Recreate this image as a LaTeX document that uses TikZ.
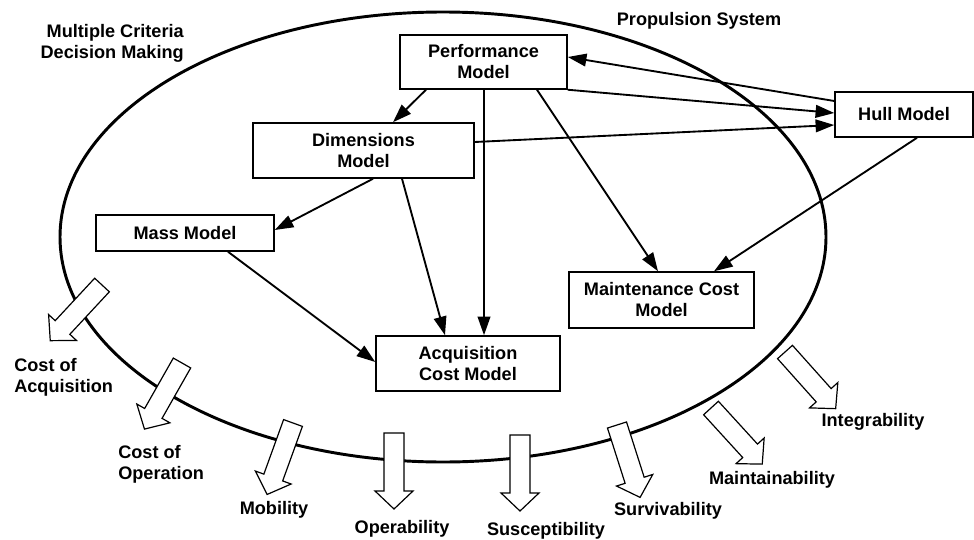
\documentclass[tikz,border=0pt]{standalone}
\usepackage{fontspec}
\setmainfont{Liberation Sans}
\usetikzlibrary{arrows.meta,calc}
\tikzset{
	model/.style={draw, line width=1.1pt, fill=white, align=center, inner sep=0pt, font=\fontsize{13.6}{15.75}\selectfont\bfseries},
	lbl/.style={align=center, inner sep=0pt, font=\fontsize{13.6}{15.75}\selectfont\bfseries},
	link/.style={line width=1.4pt, -{Triangle[length=14pt,width=9.5pt]}},
	hollow/.style={draw, line width=0.9pt, fill=white, line join=miter},
}
\newcommand\critarrow[2]{%
	\draw[hollow, shift={(#1)}, rotate=#2] (0,10) -- (58,10) -- (58,19) -- (76,0) -- (58,-19) -- (58,-10) -- (0,-10) -- cycle;}
\begin{document}
\begin{tikzpicture}[x=0.75pt, y=-0.75pt]
	\useasboundingbox (0,0) rectangle (974,539);
	\draw[line width=2.2pt] (443,237) ellipse [x radius=383, y radius=225];
	\node[model, minimum width=125.3pt, minimum height=40.5pt] (perf) at (483.5,62) {Performance\\Model};
	\node[model, minimum width=165.8pt, minimum height=41.3pt] (dims) at (363.5,150.5) {Dimensions\\Model};
	\node[model, minimum width=103.5pt, minimum height=33.8pt] (hull) at (904,114.5) {Hull Model};
	\node[model, minimum width=133.5pt, minimum height=27pt] (mass) at (185,233) {Mass Model};
	\node[model, minimum width=138pt, minimum height=41.3pt] (acq) at (468,363.5) {Acquisition\\Cost Model};
	\node[model, minimum width=138.8pt, minimum height=42pt] (maint) at (661.5,300) {Maintenance Cost\\Model};
	\draw[link] ($(perf.south)+(-57.5,0)$) -- ($(dims.north)+(29.5,0)$);
	\draw[link] ($(hull.west)+(0,-13.5)$) -- ($(perf.east)+(0,-5)$);
	\draw[link] (perf.south east) -- ($(hull.west)+(0,-1.5)$);
	\draw[link] ($(dims.east)+(0,-8.5)$) -- ($(hull.west)+(0,10.5)$);
	\draw[link] ($(hull.south)+(13,0)$) -- ($(maint.north)+(52.5,0)$);
	\draw[link] ($(perf.south)+(53.5,0)$) -- ($(maint.north)+(-3.5,0)$);
	\draw[link] ($(perf.south)+(0.5,0)$) -- ($(acq.north)+(16,0)$);
	\draw[link] ($(dims.south)+(38.5,0)$) -- ($(acq.north)+(-23,0)$);
	\draw[link] ($(dims.south)+(9.5,0)$) -- ($(mass.east)+(0,-3)$);
	\draw[link] ($(mass.south)+(43,0)$) -- ($(acq.west)+(0,-1.5)$);
	\critarrow{102,285}{-132.9}
	\critarrow{182,363}{-119.6}
	\critarrow{293,423}{-109.9}
	\critarrow{394,433}{-90}
	\critarrow{520,435}{-90}
	\critarrow{617,425}{-72.3}
	\critarrow{711,408}{-47.6}
	\critarrow{785,352}{-48.2}
	\node[lbl, align=right, anchor=east] (mcdm) at (184,43) {Multiple Criteria\\Decision Making};
	\node[lbl] (prop) at (699,21) {Propulsion System};
	\node[lbl, align=left, anchor=west] (costacq) at (14,377) {Cost of\\Acquisition};
	\node[lbl, align=left, anchor=west] (costop) at (118,464) {Cost of\\Operation};
	\node[lbl] (mob) at (274,510) {Mobility};
	\node[lbl] (oper) at (402,529) {Operability};
	\node[lbl] (susc) at (546,531) {Susceptibility};
	\node[lbl] (surv) at (668,511) {Survivability};
	\node[lbl] (maintain) at (772,480) {Maintainability};
	\node[lbl] (integ) at (873,422) {Integrability};
\end{tikzpicture}
\end{document}
